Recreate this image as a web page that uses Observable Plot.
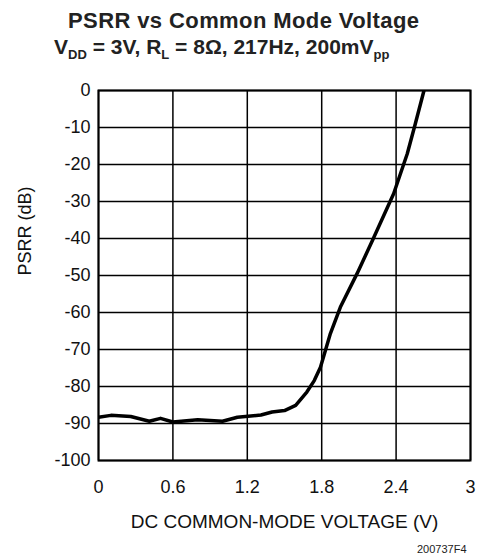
<!DOCTYPE html>
<html><head><meta charset="utf-8">
<script src="https://cdn.jsdelivr.net/npm/d3@7"></script>
<script src="https://cdn.jsdelivr.net/npm/@observablehq/plot@0.6"></script>
<style>
body{margin:0;background:#fff;font-family:"Liberation Sans",Arial,sans-serif;}
#wrap{position:relative;width:477px;}
#head{position:relative;height:80px;}
#head span.t{position:absolute;white-space:nowrap;font-weight:bold;color:#222;}
sub{font-size:13px;vertical-align:-5px;line-height:0;}
</style></head>
<body><div id="wrap">
<div id="head">
<span class="t" style="left:68px;top:8px;font-size:22px;letter-spacing:0.4px;">PSRR vs Common Mode Voltage</span>
<span class="t" style="left:54px;top:35px;font-size:21px;">V<sub>DD</sub> = 3V, R<sub>L</sub> = 8Ω, 217Hz, 200mV<sub>pp</sub></span>
</div>
<div id="chart"></div>
</div>
<script>
const voltage = [0, 0.1, 0.26, 0.41, 0.5, 0.6, 0.8, 1.0, 1.12, 1.31, 1.4, 1.5, 1.59, 1.68, 1.74, 1.79, 1.87, 1.95, 2.085, 2.21, 2.38, 2.49, 2.555, 2.625];
const psrr = [-88.3, -87.8, -88.1, -89.4, -88.6, -89.6, -89.0, -89.4, -88.3, -87.7, -86.9, -86.5, -85.1, -81.5, -78.4, -74.8, -65.7, -58.6, -49.5, -40.5, -27.9, -17.1, -9.0, 0];
const xTicks = [0, 0.6, 1.2, 1.8, 2.4, 3];
const xTickLabels = ["0", "0.6", "1.2", "1.8", "2.4", "3"];
const yTicks = [0, -10, -20, -30, -40, -50, -60, -70, -80, -90, -100];
const yTickLabels = ["0", "-10", "-20", "-30", "-40", "-50", "-60", "-70", "-80", "-90", "-100"];
const xLabel = "DC COMMON-MODE VOLTAGE (V)";
const yLabel = "PSRR (dB)";
const footer = "200737F4";

const data = voltage.map((v, i) => ({v, p: psrr[i]}));

const chart = Plot.plot({
  width: 477, height: 478,
  marginTop: 10, marginLeft: 98, marginRight: 7, marginBottom: 98,
  style: {fontFamily: "'Liberation Sans', Arial, sans-serif", color: "#111", background: "white"},
  x: {domain: [0, 3], ticks: xTicks, label: null},
  y: {domain: [-100, 0], ticks: yTicks, label: null},
  marks: [
    Plot.gridX(xTicks, {stroke: "#000", strokeOpacity: 1, strokeWidth: 1.5}),
    Plot.gridY(yTicks, {stroke: "#000", strokeOpacity: 1, strokeWidth: 1.5}),
    Plot.axisX({ticks: xTicks, tickSize: 0, tickPadding: 20, fontSize: 18, tickFormat: (d) => xTickLabels[xTicks.indexOf(d)], label: null}),
    Plot.axisY({ticks: yTicks, tickSize: 0, tickPadding: 8, fontSize: 18, tickFormat: (d) => yTickLabels[yTicks.indexOf(d)], label: null}),
    Plot.line(data, {x: "v", y: "p", stroke: "#000", strokeWidth: 3.5, strokeLinejoin: "round", clip: true}),
    Plot.frame({stroke: "#000", strokeWidth: 2}),
    Plot.text([xLabel], {frameAnchor: "bottom", dy: 67, fontSize: 19, fill: "#111", text: d => d}),
    Plot.text([yLabel], {frameAnchor: "left", dx: -73, rotate: -90, fontSize: 18, fill: "#111", text: d => d}),
    Plot.text([footer], {frameAnchor: "bottom-right", dx: -4, dy: 92, fontSize: 11, fill: "#222", text: d => d})
  ]
});
document.getElementById("chart").appendChild(chart);
</script>
</body></html>
